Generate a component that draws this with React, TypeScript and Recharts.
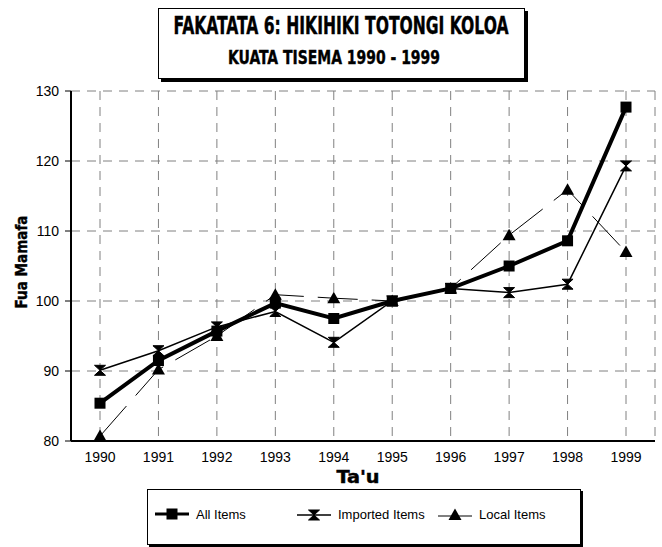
import React from "react";
import { LineChart, Line, XAxis, YAxis, CartesianGrid } from "recharts";

const years = ["1990", "1991", "1992", "1993", "1994", "1995", "1996", "1997", "1998", "1999"];
const allItems = [85.4, 91.5, 95.7, 99.7, 97.5, 100, 101.8, 105.0, 108.6, 127.7];
const importedItems = [90.1, 92.9, 96.3, 98.5, 94.1, 100, 101.8, 101.2, 102.4, 119.3];
const localItems = [80.7, 90.2, 95.0, 100.9, 100.4, 100, 101.8, 109.4, 115.9, 107.0];

const majorTicks = [80, 90, 100, 110, 120, 130];
const minorTicks = [85, 95, 105, 115, 125];

const data = years.map((y, i) => ({
  year: y,
  all: allItems[i],
  imported: importedItems[i],
  local: localItems[i],
}));

const HEAVY = "'DejaVu Sans Condensed', 'DejaVu Sans', sans-serif";
const PLAIN = "'Liberation Sans', Arial, sans-serif";

// marker shapes, shared by the lines and the legend
function square(cx: number, cy: number, key?: any) {
  return <rect key={key} x={cx - 5.5} y={cy - 5.5} width={11} height={11} fill="#000" />;
}
function hourglass(cx: number, cy: number, key?: any) {
  return (
    <path
      key={key}
      d={`M${cx - 5.5},${cy - 5} H${cx + 5.5} L${cx - 5.5},${cy + 5} H${cx + 5.5} Z`}
      fill="#000"
      stroke="#000"
      strokeWidth={1}
    />
  );
}
function triangle(cx: number, cy: number, key?: any) {
  return <path key={key} d={`M${cx},${cy - 6.5} L${cx + 6.5},${cy + 5} L${cx - 6.5},${cy + 5} Z`} fill="#000" />;
}

// heavy condensed text squeezed to the width it has in the original
const Heavy = ({ x, y, len, size, children, rotate }: any) => (
  <text
    x={x}
    y={y}
    transform={rotate ? `rotate(-90 ${x} ${y})` : undefined}
    textAnchor="middle"
    dominantBaseline="central"
    fontFamily={HEAVY}
    fontWeight={700}
    fontSize={size}
    textLength={len}
    lengthAdjust="spacingAndGlyphs"
    fill="#000"
    stroke="#000"
    strokeWidth={0.4}
  >
    {children}
  </text>
);

const LegendItem = ({ left, label, children }: { left: number; label: string; children: React.ReactNode }) => (
  <div style={{ position: "absolute", left, top: 16, display: "flex", alignItems: "center" }}>
    <svg width={36} height={16} style={{ marginRight: 6 }}>
      {children}
    </svg>
    <span style={{ fontFamily: PLAIN, fontSize: 13, color: "#000" }}>{label}</span>
  </div>
);

export default function App() {
  return (
    <div style={{ position: "absolute", left: 0, top: 0, width: 662, height: 547, background: "#fff" }}>
      <div
        style={{
          position: "absolute",
          left: 158,
          top: 8,
          width: 365,
          height: 69,
          border: "1.5px solid #000",
          boxShadow: "3px 3px 0 #000",
        }}
      >
        <svg width={365} height={69} style={{ display: "block" }}>
          <Heavy x={182} y={16.5} len={335} size={24}>
            FAKATATA 6: HIKIHIKI TOTONGI KOLOA
          </Heavy>
          <Heavy x={175} y={48} len={212} size={20}>
            KUATA TISEMA 1990 - 1999
          </Heavy>
        </svg>
      </div>

      <LineChart width={662} height={547} data={data} margin={{ top: 91, right: 7, bottom: 76, left: 11 }}>
        <YAxis
          yAxisId="minor"
          type="number"
          domain={[80, 130]}
          ticks={minorTicks}
          width={0}
          tick={false}
          axisLine={false}
          tickSize={3}
          tickLine={{ stroke: "#000", strokeWidth: 1, transform: "translate(2.5,0)" }}
        />
        <YAxis
          yAxisId="main"
          type="number"
          domain={[80, 130]}
          ticks={majorTicks}
          width={60}
          tickSize={6}
          tickMargin={6}
          axisLine={{ stroke: "#000", strokeWidth: 2 }}
          tickLine={{ stroke: "#000", strokeWidth: 1 }}
          tick={{ fill: "#000", fontSize: 14, fontFamily: PLAIN }}
          label={{
            content: ({ viewBox }: any) => (
              <Heavy x={viewBox.x + 10} y={262} len={93} size={16} rotate>
                Fua Mamafa
              </Heavy>
            ),
          }}
        />
        <YAxis yAxisId="right" orientation="right" width={0} domain={[80, 130]} tick={false} tickLine={false} axisLine={{ stroke: "#000", strokeWidth: 1.5 }} />
        <XAxis
          dataKey="year"
          padding={{ left: 29, right: 29 }}
          tickSize={0}
          tickMargin={11}
          tickLine={false}
          axisLine={{ stroke: "#000", strokeWidth: 2 }}
          tick={{ fill: "#000", fontSize: 14, fontFamily: PLAIN }}
          interval={0}
          label={{
            content: ({ viewBox }: any) => (
              <Heavy x={viewBox.x + viewBox.width / 2 - 5} y={476.5} len={43} size={17}>
                Ta'u
              </Heavy>
            ),
          }}
        />
        <XAxis xAxisId="top" orientation="top" height={0} tick={false} tickLine={false} axisLine={{ stroke: "#000", strokeWidth: 1.5 }} />
        <CartesianGrid yAxisId="main" stroke="#808080" strokeDasharray="9 7" strokeWidth={1} />
        <Line
          yAxisId="main"
          dataKey="local"
          stroke="#000"
          strokeWidth={1}
          strokeDasharray="40 14"
          isAnimationActive={false}
          dot={(p: any) => triangle(p.cx, p.cy, p.index)}
        />
        <Line
          yAxisId="main"
          dataKey="imported"
          stroke="#000"
          strokeWidth={1.5}
          isAnimationActive={false}
          dot={(p: any) => hourglass(p.cx, p.cy, p.index)}
        />
        <Line
          yAxisId="main"
          dataKey="all"
          stroke="#000"
          strokeWidth={4}
          isAnimationActive={false}
          dot={(p: any) => square(p.cx, p.cy, p.index)}
        />
      </LineChart>

      <div
        style={{
          position: "absolute",
          left: 147,
          top: 489,
          width: 432,
          height: 54,
          border: "1.5px solid #000",
          boxShadow: "2px 2px 0 #000",
          background: "#fff",
        }}
      >
        <LegendItem left={6} label="All Items">
          <line x1={1} y1={8} x2={35} y2={8} stroke="#000" strokeWidth={3} />
          {square(18, 8)}
        </LegendItem>
        <LegendItem left={148} label="Imported Items">
          <line x1={1} y1={9} x2={35} y2={9} stroke="#000" strokeWidth={1.5} />
          {hourglass(18, 9)}
        </LegendItem>
        <LegendItem left={289} label="Local Items">
          <line x1={1} y1={10} x2={35} y2={10} stroke="#000" strokeWidth={1} />
          {triangle(18, 9)}
        </LegendItem>
      </div>
    </div>
  );
}
